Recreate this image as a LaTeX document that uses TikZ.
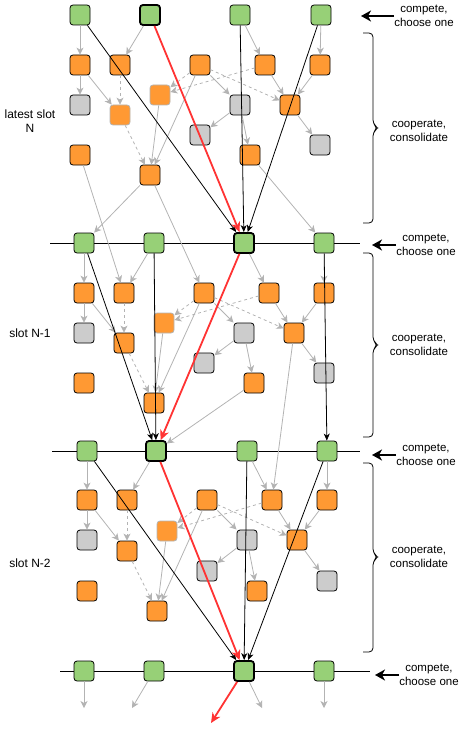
\documentclass[tikz,border=0pt]{standalone}
\usepackage{fontspec}
\setmainfont{Liberation Sans}
\usetikzlibrary{arrows.meta}
\definecolor{blockgreen}{HTML}{97D077}
\definecolor{attorange}{HTML}{FF9933}
\definecolor{stalegrey}{HTML}{CCCCCC}
\definecolor{edgegrey}{HTML}{B3B3B3}
\definecolor{forkred}{HTML}{FF3333}
\begin{document}
\begin{tikzpicture}[x=1pt, y=-1pt,
    blockbox/.style={rectangle, draw, rounded corners=3pt, line width=0.8pt, minimum size=20pt, inner sep=0pt},
    blk/.style={blockbox, fill=blockgreen},
    headblk/.style={blk, line width=1.8pt},
    att/.style={blockbox, fill=attorange},
    lateatt/.style={blockbox, fill=attorange, draw=edgegrey},
    stale/.style={blockbox, fill=stalegrey},
    greyarrow/.style={draw=edgegrey, line width=0.8pt, -{Stealth[length=7pt, width=7pt, inset=2pt]}},
    greydash/.style={greyarrow, dash pattern=on 3pt off 3pt},
    blackarrow/.style={draw=black, line width=0.8pt, -{Stealth[length=7pt, width=6pt, inset=2pt]}},
    redarrow/.style={draw=forkred, line width=1.8pt, -{Stealth[length=10pt, width=9pt, inset=3pt]}},
    sidearrow/.style={draw=black, line width=1.8pt, -{Stealth[length=10pt, width=11pt, inset=3pt]}},
    slotline/.style={draw=black, line width=0.8pt},
    sidelabel/.style={font=\fontsize{11.5}{13.5}\selectfont, align=center, inner sep=0pt},
    slotname/.style={font=\fontsize{12}{14}\selectfont, align=center, inner sep=0pt}]
    \useasboundingbox (0,0) rectangle (469,733);

    \coordinate (r1w) at (50,243);
    \coordinate (r1e) at (360,243);
    \coordinate (r2w) at (52,451);
    \coordinate (r2e) at (360,451);
    \coordinate (r3w) at (60,671);
    \coordinate (r3e) at (370,671);
    \draw[slotline] (r1w) -- (r1e);
    \draw[slotline] (r2w) -- (r2e);
    \draw[slotline] (r3w) -- (r3e);

    \node[blk] (g01) at (80,15) {};
    \node[headblk] (g02) at (150,15) {};
    \node[blk] (g03) at (240,15) {};
    \node[blk] (g04) at (321,15) {};
    \node[att] (a01) at (80,65) {};
    \node[att] (a02) at (120,65) {};
    \node[att] (a03) at (200,65) {};
    \node[att] (a04) at (265,65) {};
    \node[att] (a05) at (320,65) {};
    \node[stale] (s01) at (80,105) {};
    \node[lateatt] (w0) at (160,95) {};
    \node[lateatt] (m0) at (120,115) {};
    \node[stale] (s02) at (240,105) {};
    \node[att] (a06) at (290,105) {};
    \node[stale] (s03) at (200,135) {};
    \node[stale] (s04) at (320,145) {};
    \node[att] (a07) at (80,155) {};
    \node[att] (a08) at (250,155) {};
    \node[att] (a09) at (150,175) {};

    \node[blk] (g11) at (84,243) {};
    \node[blk] (g12) at (154,243) {};
    \node[headblk] (g13) at (244,243) {};
    \node[blk] (g14) at (324,243) {};
    \node[att] (a11) at (84,293) {};
    \node[att] (a12) at (124,293) {};
    \node[att] (a13) at (204,293) {};
    \node[att] (a14) at (269,293) {};
    \node[att] (a15) at (324,293) {};
    \node[stale] (s11) at (84,333) {};
    \node[lateatt] (w1) at (164,323) {};
    \node[att] (m1) at (124,343) {};
    \node[stale] (s12) at (244,333) {};
    \node[att] (a16) at (294,333) {};
    \node[stale] (s13) at (204,363) {};
    \node[stale] (s14) at (324,373) {};
    \node[att] (a17) at (84,383) {};
    \node[att] (a18) at (254,383) {};
    \node[att] (a19) at (154,403) {};

    \node[blk] (g21) at (87,451) {};
    \node[headblk] (g22) at (156,451) {};
    \node[blk] (g23) at (247,451) {};
    \node[blk] (g24) at (327,451) {};
    \node[att] (a21) at (87,500) {};
    \node[att] (a22) at (127,500) {};
    \node[att] (a23) at (207,500) {};
    \node[att] (a24) at (272,500) {};
    \node[att] (a25) at (327,500) {};
    \node[stale] (s21) at (87,540) {};
    \node[lateatt] (w2) at (167,531) {};
    \node[att] (m2) at (127,551) {};
    \node[stale] (s22) at (247,540) {};
    \node[att] (a26) at (297,540) {};
    \node[stale] (s23) at (207,571) {};
    \node[stale] (s24) at (327,581) {};
    \node[att] (a27) at (87,591) {};
    \node[att] (a28) at (257,591) {};
    \node[att] (a29) at (157,611) {};

    \node[blk] (g31) at (84,671) {};
    \node[blk] (g32) at (154,671) {};
    \node[headblk] (g33) at (244,671) {};
    \node[blk] (g34) at (324,671) {};
    \coordinate (e31) at (84,708);
    \coordinate (e32) at (132,708);
    \coordinate (e33) at (262,708);
    \coordinate (e34) at (324,708);
    \coordinate (e35) at (211,723);

    \draw[greyarrow] (g01) -- (a01);
    \draw[greyarrow] (g02) -- (a02);
    \draw[greyarrow] (g03) -- (a04);
    \draw[greyarrow] (g04) -- (a05);
    \draw[greyarrow] (a01) -- (s01);
    \draw[greyarrow] (a01) -- (m0);
    \draw[greydash] (a02) -- (m0);
    \draw[greydash] (a03) -- (w0);
    \draw[greydash] (a04) -- (w0);
    \draw[greyarrow] (a03) -- (s02);
    \draw[greydash] (a03) -- (a06);
    \draw[greyarrow] (a04) -- (a06);
    \draw[greyarrow] (a05) -- (a06);
    \draw[greyarrow] (a03) -- (a09);
    \draw[greyarrow] (w0) -- (a09);
    \draw[greydash] (m0) -- (a09);
    \draw[greyarrow] (s02) -- (s03);
    \draw[greyarrow] (s02) -- (a08);
    \draw[greyarrow] (a06) -- (s04);
    \draw[greyarrow] (a07) -- (a12);
    \draw[greyarrow] (a09) -- (g11);
    \draw[greyarrow] (a09) -- (a13);
    \draw[greyarrow] (a08) -- (g14);

    \draw[greyarrow] (g11) -- (a11);
    \draw[greyarrow] (g12) -- (a12);
    \draw[greyarrow] (g13) -- (a14);
    \draw[greyarrow] (g14) -- (a15);
    \draw[greyarrow] (a11) -- (s11);
    \draw[greyarrow] (a11) -- (m1);
    \draw[greydash] (a12) -- (m1);
    \draw[greydash] (a13) -- (w1);
    \draw[greydash] (a14) -- (w1);
    \draw[greyarrow] (a13) -- (s12);
    \draw[greydash] (a13) -- (a16);
    \draw[greyarrow] (a14) -- (a16);
    \draw[greyarrow] (a15) -- (a16);
    \draw[greyarrow] (a13) -- (a19);
    \draw[greyarrow] (w1) -- (a19);
    \draw[greydash] (m1) -- (a19);
    \draw[greyarrow] (s12) -- (s13);
    \draw[greyarrow] (s12) -- (a18);
    \draw[greyarrow] (a16) -- (s14);
    \draw[greyarrow] (a16) -- (a24);
    \draw[greyarrow] (a18) -- (g22);

    \draw[greyarrow] (g21) -- (a21);
    \draw[greyarrow] (g22) -- (a22);
    \draw[greyarrow] (g23) -- (a24);
    \draw[greyarrow] (g24) -- (a25);
    \draw[greyarrow] (a21) -- (s21);
    \draw[greyarrow] (a21) -- (m2);
    \draw[greydash] (a22) -- (m2);
    \draw[greydash] (a23) -- (w2);
    \draw[greydash] (a24) -- (w2);
    \draw[greyarrow] (a23) -- (s22);
    \draw[greydash] (a23) -- (a26);
    \draw[greyarrow] (a24) -- (a26);
    \draw[greyarrow] (a25) -- (a26);
    \draw[greyarrow] (a23) -- (a29);
    \draw[greyarrow] (w2) -- (a29);
    \draw[greydash] (m2) -- (a29);
    \draw[greyarrow] (s22) -- (s23);
    \draw[greyarrow] (s22) -- (a28);
    \draw[greyarrow] (a26) -- (s24);

    \draw[greyarrow] (g31) -- (e31);
    \draw[greyarrow] (g32) -- (e32);
    \draw[greyarrow] (g33) -- (e33);
    \draw[greyarrow] (g34) -- (e34);

    \draw[blackarrow] (g01) -- (g13);
    \draw[blackarrow] (g03) -- (g13);
    \draw[blackarrow] (g04) -- (g13);
    \draw[blackarrow] (g11) -- (g22);
    \draw[blackarrow] (g12) -- (g22);
    \draw[blackarrow] (g14) -- (g24);
    \draw[blackarrow] (g21) -- (g33);
    \draw[blackarrow] (g23) -- (g33);
    \draw[blackarrow] (g24) -- (g33);

    \draw[redarrow] (g02) -- (g13);
    \draw[redarrow] (g13) -- (g22);
    \draw[redarrow] (g22) -- (g33);
    \draw[redarrow] (g33) -- (e35);

    \node[slotname] (n0) at (30,121) {latest slot\\N};
    \node[slotname] (n1) at (30,333) {slot N-1};
    \node[slotname] (n2) at (30,563) {slot N-2};

    \node[sidelabel] (t0) at (424,16) {compete,\\choose one};
    \node[sidelabel] (t1) at (426,245) {compete,\\choose one};
    \node[sidelabel] (t2) at (426,455) {compete,\\choose one};
    \node[sidelabel] (t3) at (429,675) {compete,\\choose one};
    \coordinate (h0) at (361,16);
    \coordinate (h1) at (372,245);
    \coordinate (h2) at (372,455);
    \coordinate (h3) at (375,675);
    \draw[sidearrow] (t0.west) -- (h0);
    \draw[sidearrow] (t1.west) -- (h1);
    \draw[sidearrow] (t2.west) -- (h2);
    \draw[sidearrow] (t3.west) -- (h3);

    \draw[line width=0.8pt, rounded corners=4pt] (363,33) -- (373,33) -- (373,124) -- (378,128) -- (373,132) -- (373,223) -- (363,223);
    \draw[line width=0.8pt, rounded corners=4pt] (363,253) -- (373,253) -- (373,341) -- (378,345) -- (373,349) -- (373,437) -- (363,437);
    \draw[line width=0.8pt, rounded corners=4pt] (363,463) -- (373,463) -- (373,553) -- (378,557) -- (373,561) -- (373,652) -- (363,652);
    \node[sidelabel] (c0) at (419,131) {cooperate,\\consolidate};
    \node[sidelabel] (c1) at (419,345) {cooperate,\\consolidate};
    \node[sidelabel] (c2) at (419,557) {cooperate,\\consolidate};
\end{tikzpicture}
\end{document}
